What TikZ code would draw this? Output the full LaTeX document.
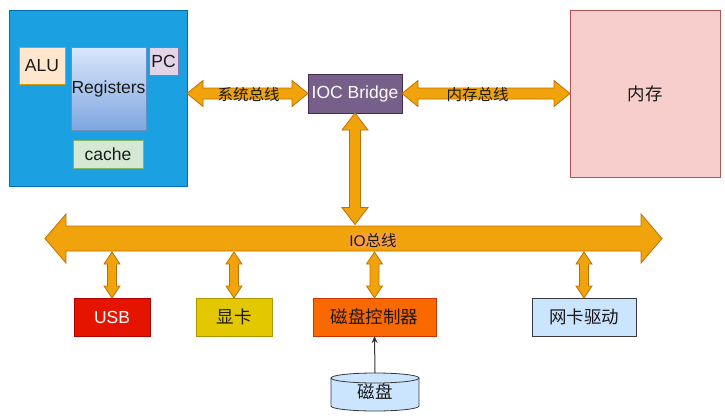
\documentclass[tikz,border=0pt]{standalone}
\usepackage{fontspec}
\setmainfont{Liberation Sans}
\newfontfamily\cjk{Noto Sans CJK SC}
\usetikzlibrary{calc,arrows.meta}
\definecolor{cpublue}{HTML}{1BA1E2}
\definecolor{cpuline}{HTML}{006EAF}
\definecolor{alufill}{HTML}{FFE6CC}
\definecolor{aluline}{HTML}{D79B00}
\definecolor{regtop}{HTML}{DAE8FC}
\definecolor{regbot}{HTML}{7EA6E0}
\definecolor{regline}{HTML}{6C8EBF}
\definecolor{pcfill}{HTML}{E1D5E7}
\definecolor{pcline}{HTML}{9673A6}
\definecolor{cachefill}{HTML}{D5E8D4}
\definecolor{cacheline}{HTML}{82B366}
\definecolor{iocfill}{HTML}{76608A}
\definecolor{iocline}{HTML}{432D57}
\definecolor{memfill}{HTML}{F8CECC}
\definecolor{memline}{HTML}{B85450}
\definecolor{usbfill}{HTML}{E51400}
\definecolor{usbline}{HTML}{B20000}
\definecolor{gpufill}{HTML}{E3C800}
\definecolor{gpuline}{HTML}{B09500}
\definecolor{ctrlfill}{HTML}{FA6800}
\definecolor{ctrlline}{HTML}{C73500}
\definecolor{nicfill}{HTML}{CCE5FF}
\definecolor{nicline}{HTML}{36393D}
\definecolor{arrowfill}{HTML}{F0A30A}
\definecolor{arrowline}{HTML}{BD7000}
\definecolor{buslabel}{HTML}{F89E3A}
\definecolor{txt}{HTML}{1A1A1A}
\definecolor{thinarrow}{HTML}{333333}
\newcommand\hbigarrow[5]{%
  \draw[bigarrow] (#1) -- ($(#1)+(#5,-#4)$) -- ($(#1)+(#5,-#3)$) -- ($(#2)+(-#5,-#3)$) -- ($(#2)+(-#5,-#4)$) -- (#2)
    -- ($(#2)+(-#5,#4)$) -- ($(#2)+(-#5,#3)$) -- ($(#1)+(#5,#3)$) -- ($(#1)+(#5,#4)$) -- cycle;}
\newcommand\vbigarrow[5]{%
  \draw[bigarrow] (#1) -- ($(#1)+(#4,#5)$) -- ($(#1)+(#3,#5)$) -- ($(#2)+(#3,-#5)$) -- ($(#2)+(#4,-#5)$) -- (#2)
    -- ($(#2)+(-#4,-#5)$) -- ($(#2)+(-#3,-#5)$) -- ($(#1)+(-#3,#5)$) -- ($(#1)+(-#4,#5)$) -- cycle;}
\begin{document}
\begin{tikzpicture}[x=1pt,y=-1pt,
  box/.style={draw, line width=0.8pt, outer sep=0pt, inner sep=0pt, align=center, text=txt,
    font=\fontsize{17.5}{20}\selectfont},
  cjkbox/.style={box, font=\cjk\fontsize{17.5}{20}\selectfont},
  bigarrow/.style={fill=arrowfill, draw=arrowline, line width=0.8pt, line join=miter},
  elabel/.style={inner sep=0pt, text=txt, font=\cjk\fontsize{15.5}{18}\selectfont}]
\useasboundingbox (0,0) rectangle (725,415);

% CPU
\node[box, fill=cpublue, draw=cpuline, minimum width=178pt, minimum height=176pt] (cpu) at (98,98) {};
\node[box, fill=alufill, draw=aluline, minimum width=46pt, minimum height=37pt] (alu) at (42,65.5) {ALU};
\node[box, top color=regtop, bottom color=regbot, draw=regline, minimum width=75pt, minimum height=83pt] (reg) at (108.5,88.5) {\raisebox{-2pt}{Registers}};
\node[box, fill=pcfill, draw=pcline, minimum width=29pt, minimum height=28pt] (pc) at (163.5,61) {PC};
\node[box, fill=cachefill, draw=cacheline, minimum width=70pt, minimum height=28pt] (cache) at (108,154) {cache};

% bridge and memory
\node[box, fill=iocfill, draw=iocline, text=white, minimum width=94pt, minimum height=39pt] (ioc) at (355,93.5) {IOC Bridge};
\node[cjkbox, fill=memfill, draw=memline, minimum width=150pt, minimum height=167pt] (mem) at (645,93.5) {内存};

% devices
\node[box, fill=usbfill, draw=usbline, text=white, minimum width=76pt, minimum height=38pt] (usb) at (112,317) {USB};
\node[cjkbox, fill=gpufill, draw=gpuline, minimum width=76pt, minimum height=38pt] (gpu) at (234,317) {显卡};
\node[cjkbox, fill=ctrlfill, draw=ctrlline, minimum width=123pt, minimum height=38pt] (ctrl) at (374.5,317) {磁盘控制器};
\node[cjkbox, fill=nicfill, draw=nicline, minimum width=104pt, minimum height=38pt] (nic) at (584,317) {网卡驱动};

% disk cylinder
\filldraw[fill=nicfill, draw=nicline, line width=0.8pt]
  (331,378) -- (331,406) arc[start angle=180, end angle=0, x radius=44, y radius=5]
  -- (419,378) arc[start angle=0, end angle=-180, x radius=44, y radius=5] -- cycle;
\draw[draw=nicline, line width=0.8pt] (331,378) arc[start angle=180, end angle=0, x radius=44, y radius=5];
\node[inner sep=0pt, outer sep=0pt, minimum width=88pt, minimum height=38pt, text=txt,
  font=\cjk\fontsize{17.5}{20}\selectfont] (disk) at (375,392) {\raisebox{-2pt}{磁盘}};

% bus arrows
\coordinate (sysL) at (cpu.east |- ioc.west);
\hbigarrow{sysL}{ioc.west}{5.5}{13}{16}
\node[elabel] (syslabel) at ($(sysL)!0.5!(ioc.west)+(1,1.5)$) {系统总线};
\coordinate (memR) at (mem.west |- ioc.east);
\hbigarrow{ioc.east}{memR}{5.5}{13}{16}
\node[elabel] (memlabel) at ($(ioc.east)!0.5!(memR)+(-8.5,1.5)$) {内存总线};

\coordinate (busL) at (45,238.5);
\coordinate (busR) at (662,238.5);
\hbigarrow{busL}{busR}{12.5}{24.5}{21}
\node[elabel, fill=buslabel, inner sep=0.5pt] (iolabel) at (373,240.5) {\fontspec{Liberation Sans}IO\cjk 总线};

\coordinate (iocbus) at ($(ioc.south |- busL)+(0,-14)$);
\vbigarrow{ioc.south}{iocbus}{5.5}{13}{17}

\foreach \d in {usb,gpu,ctrl,nic}{
  \coordinate (\d top) at ($(\d.north |- busL)+(0,13.5)$);
  \vbigarrow{\d top}{\d.north}{4.5}{8}{12}
}

% disk to controller
\draw[draw=thinarrow, line width=1pt, -{Stealth[length=7pt,width=6pt]}] (disk.north) -- (ctrl.south);
\end{tikzpicture}
\end{document}
